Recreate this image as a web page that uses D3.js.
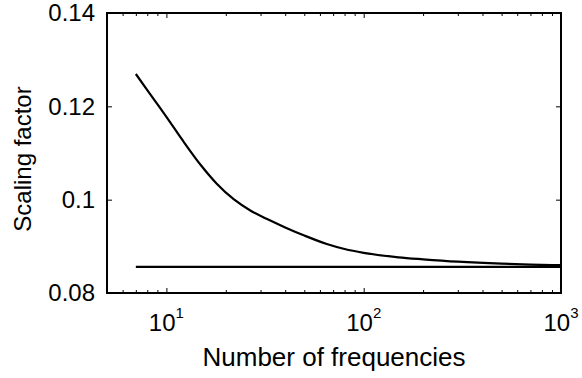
<!DOCTYPE html>
<html>
<head>
<meta charset="utf-8">
<script src="https://cdn.jsdelivr.net/npm/d3@7"></script>
<style>
    body { margin: 0; background: #fff; }
    text { font-family: "Liberation Sans", Arial, sans-serif; fill: #000; }
</style>
</head>
<body>
<div id="chart"></div>
<script>
// values
var freqN = [7, 8, 9, 10, 12, 15, 18, 22, 27, 33, 40, 50, 65, 80, 100, 150, 200, 300, 500, 700, 1000];
var scaling = [0.12693, 0.12348, 0.12046, 0.11776, 0.11291, 0.10732, 0.10342, 0.10004, 0.09753, 0.09569,
    0.09406, 0.09232, 0.09050, 0.08943, 0.08861, 0.08765, 0.08722, 0.08671, 0.08628, 0.08609, 0.08596];
var limitN = [7, 1000];
var limitVal = [0.0856, 0.0856];

var yTicks = [0.08, 0.1, 0.12, 0.14];
var yTickLabels = ["0.08", "0.1", "0.12", "0.14"];
var xMajor = [10, 100, 1000];
var xExp = ["1", "2", "3"];
var xMinor = [6, 7, 8, 9, 20, 30, 40, 50, 60, 70, 80, 90, 200, 300, 400, 500, 600, 700, 800, 900];

var margin = {top: 13, right: 21, bottom: 85, left: 107},
    width = 582 - margin.left - margin.right,
    height = 378 - margin.top - margin.bottom;

var svg = d3.select("#chart")
        .append("svg")
        .attr("width", 582)
        .attr("height", 378)
        .append("g")
        .attr("transform", "translate(" + margin.left + "," + margin.top + ")");

var x = d3.scaleLog()
        .domain([5, 1000])
        .range([0, width]);

var y = d3.scaleLinear()
        .domain([0.08, 0.14])
        .range([height, 0]);

// ticks, all pointing inward
function styleAxis(g) {
    g.select(".domain").remove();
    g.selectAll("line").attr("stroke", "#000").attr("stroke-width", 1);
}

svg.append("g")
        .attr("transform", "translate(0," + height + ")")
        .call(d3.axisBottom(x).tickValues(xMajor).tickSizeInner(-5).tickSizeOuter(0).tickFormat(""))
        .call(styleAxis);
svg.append("g")
        .attr("transform", "translate(0," + height + ")")
        .call(d3.axisBottom(x).tickValues(xMinor).tickSizeInner(-3).tickSizeOuter(0).tickFormat(""))
        .call(styleAxis);
svg.append("g")
        .call(d3.axisTop(x).tickValues(xMajor).tickSizeInner(-5).tickSizeOuter(0).tickFormat(""))
        .call(styleAxis);
svg.append("g")
        .call(d3.axisTop(x).tickValues(xMinor).tickSizeInner(-3).tickSizeOuter(0).tickFormat(""))
        .call(styleAxis);

var yLeft = svg.append("g")
        .call(d3.axisLeft(y).tickValues(yTicks).tickSizeInner(-5).tickSizeOuter(0).tickPadding(12)
                .tickFormat(function (d, i) {
                    return yTickLabels[i];
                }))
        .call(styleAxis);
yLeft.selectAll("text")
        .style("font-size", "24px")
        .style("font-family", "'Liberation Sans', Arial, sans-serif")
        .attr("fill", "#000");

svg.append("g")
        .attr("transform", "translate(" + width + ",0)")
        .call(d3.axisRight(y).tickValues(yTicks).tickSizeInner(-5).tickSizeOuter(0).tickFormat(""))
        .call(styleAxis);

// x tick labels 10^n
var xl = svg.selectAll(".xlab")
        .data(xMajor)
        .enter()
        .append("text")
        .attr("class", "xlab")
        .attr("x", function (d) {
            return x(d);
        })
        .attr("y", height + 38)
        .attr("text-anchor", "middle")
        .style("font-size", "24px");
xl.append("tspan").text("10");
xl.append("tspan")
        .attr("dy", -13)
        .style("font-size", "15px")
        .text(function (d, i) {
            return xExp[i];
        });

// box
svg.append("rect")
        .attr("x", 0)
        .attr("y", 0)
        .attr("width", width)
        .attr("height", height)
        .attr("fill", "none")
        .attr("stroke", "#000")
        .attr("stroke-width", 2);

// lines
var line = d3.line()
        .x(function (d) {
            return x(d[0]);
        })
        .y(function (d) {
            return y(d[1]);
        })
        .curve(d3.curveMonotoneX);

svg.append("path")
        .datum(d3.zip(freqN, scaling))
        .attr("d", line)
        .attr("fill", "none")
        .attr("stroke", "#000")
        .attr("stroke-width", 2.2);

svg.append("path")
        .datum(d3.zip(limitN, limitVal))
        .attr("d", line)
        .attr("fill", "none")
        .attr("stroke", "#000")
        .attr("stroke-width", 2.2);

// axis labels
svg.append("text")
        .attr("x", width / 2)
        .attr("y", 366 - margin.top)
        .attr("text-anchor", "middle")
        .style("font-size", "26px")
        .text("Number of frequencies");

svg.append("text")
        .attr("transform", "translate(" + (31 - margin.left) + "," + (159 - margin.top) + ") rotate(-90)")
        .attr("text-anchor", "middle")
        .style("font-size", "24px")
        .text("Scaling factor");
</script>
</body>
</html>
